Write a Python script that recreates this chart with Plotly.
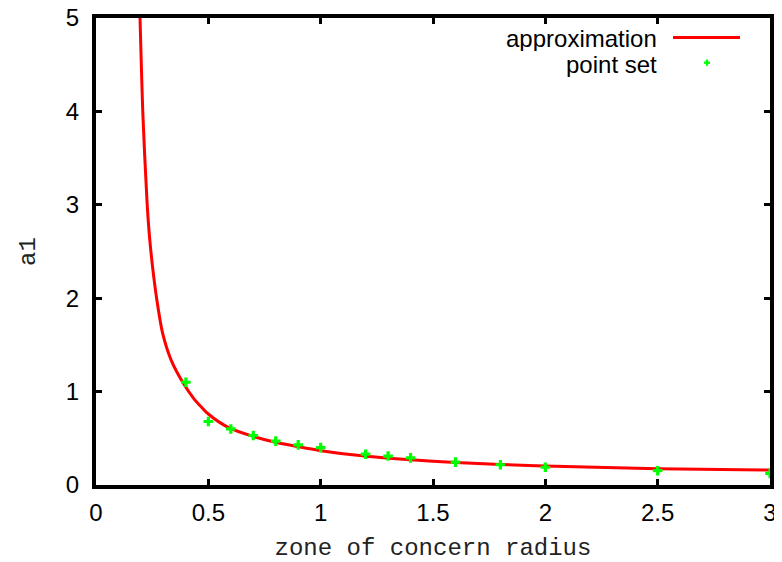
import plotly.graph_objects as go

# fitted approximation curve
curve_x = [0.196, 0.209, 0.227, 0.237, 0.252, 0.271, 0.297, 0.334, 0.386, 0.437, 0.467, 0.5,
           0.586, 0.7, 0.794, 0.9, 0.994, 1.196, 1.4, 1.6, 1.8, 2.0, 2.5, 3.0]
curve_y = [5.0, 3.95, 3.04, 2.69, 2.33, 1.98, 1.62, 1.34, 1.10, 0.92, 0.84, 0.76,
           0.62, 0.52, 0.46, 0.41, 0.37, 0.31, 0.27, 0.24, 0.22, 0.203, 0.175, 0.16]

# measured point set
pts_x = [0.4, 0.5, 0.6, 0.7, 0.8, 0.9, 1.0, 1.2, 1.3, 1.4, 1.6, 1.8, 2.0, 2.5, 3.0]
pts_y = [1.10, 0.68, 0.60, 0.53, 0.47, 0.43, 0.40, 0.33, 0.31, 0.29, 0.245, 0.217, 0.19, 0.153, 0.125]

x_ticks = [0, 0.5, 1, 1.5, 2, 2.5, 3]
x_ticklabels = ["0", "0.5", "1", "1.5", "2", "2.5", "3"]
y_ticks = [0, 1, 2, 3, 4, 5]
y_ticklabels = ["0", "1", "2", "3", "4", "5"]

legend_labels = ["approximation", "point set"]

# the page body adds an 8px offset, so the figure is made 8px smaller
OFF = 8
W, H = 782 - OFF, 562 - OFF
L, R, T, B = 96 - OFF, 12, 18 - OFF, 77
pw, ph = W - L - R, H - T - B

def px(xpix):
    return (xpix - OFF - L) / pw

def py(ypix):
    return (H - B - (ypix - OFF)) / ph

fig = go.Figure()
fig.add_trace(go.Scatter(x=curve_x, y=curve_y, mode="lines", name=legend_labels[0],
                         line=dict(color="#ff0000", width=3, shape="spline", smoothing=0.8),
                         showlegend=False))
fig.add_trace(go.Scatter(x=pts_x, y=pts_y, mode="markers", name=legend_labels[1],
                         marker=dict(symbol="cross", color="#00ff00", size=8, line=dict(width=0)),
                         showlegend=False))

tickfont = dict(family="Liberation Sans, Arial, sans-serif", size=24, color="black")
titlefont = dict(family="Liberation Mono, Courier New, monospace", size=24, color="#222222")

axis_common = dict(showline=True, linewidth=4, linecolor="black", mirror="ticks",
                   ticks="inside", ticklen=6, tickwidth=3, tickcolor="black",
                   showgrid=False, zeroline=False, tickfont=tickfont, automargin=False,
                   ticklabeloverflow="allow")

fig.update_xaxes(range=[0, 3], tickvals=x_ticks, ticktext=x_ticklabels,
                 title=dict(text="zone of concern radius", font=titlefont, standoff=17),
                 ticklabelstandoff=3, **axis_common)
fig.update_yaxes(range=[0, 5], tickvals=y_ticks, ticktext=y_ticklabels,
                 title=dict(text="a1", font=titlefont, standoff=24),
                 ticklabelstandoff=8, **axis_common)

# legend drawn gnuplot-style: text on the left, sample on the right
legfont = dict(family="Liberation Sans, Arial, sans-serif", size=24, color="black")
fig.add_annotation(xref="paper", yref="paper", x=px(658), y=py(38), text=legend_labels[0],
                   showarrow=False, xanchor="right", yanchor="middle", font=legfont,
                   height=26, borderpad=0)
fig.add_annotation(xref="paper", yref="paper", x=px(658), y=py(64), text=legend_labels[1],
                   showarrow=False, xanchor="right", yanchor="middle", font=legfont,
                   height=26, borderpad=0)
fig.add_shape(type="line", xref="paper", yref="paper", x0=px(673), x1=px(740),
              y0=py(37.5), y1=py(37.5), line=dict(color="#ff0000", width=3))
fig.add_shape(type="rect", xref="paper", yref="paper", x0=px(704), x1=px(710),
              y0=py(61.5), y1=py(63.8), fillcolor="#00ff00", line=dict(width=0))
fig.add_shape(type="rect", xref="paper", yref="paper", x0=px(705.9), x1=px(708.1),
              y0=py(59.5), y1=py(65.8), fillcolor="#00ff00", line=dict(width=0))

fig.update_layout(width=W, height=H, margin=dict(l=L, r=R, t=T, b=B, autoexpand=False),
                  plot_bgcolor="white", paper_bgcolor="white", showlegend=False)

fig.write_html("out.html")
